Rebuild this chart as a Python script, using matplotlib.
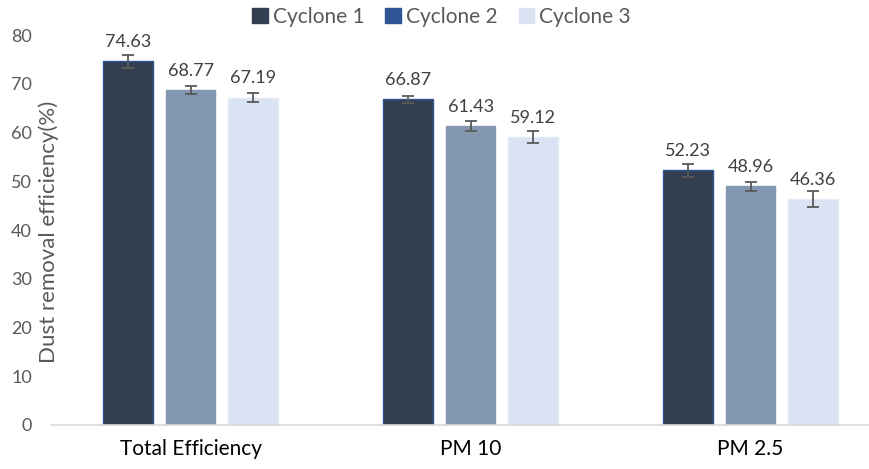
import numpy as np
import matplotlib.pyplot as plt
from matplotlib.patches import Patch

categories = ['Total Efficiency', 'PM 10', 'PM 2.5']
series_names = ['Cyclone 1', 'Cyclone 2', 'Cyclone 3']
cyclone1 = [74.63, 66.87, 52.23]
cyclone2 = [68.77, 61.43, 48.96]
cyclone3 = [67.19, 59.12, 46.36]
err1 = [1.3, 0.7, 1.3]
err2 = [0.9, 1.0, 1.0]
err3 = [0.9, 1.3, 1.65]

plt.rcParams['font.family'] = ['Lato', 'DejaVu Sans']

fill_colors = ['#333F50', '#8497B0', '#DAE3F3']
edge_colors = ['#2F5597', '#8497B0', '#E4EAF6']
legend_colors = ['#333F50', '#2F5597', '#DAE3F3']

fig = plt.figure(figsize=(8.69, 4.69), dpi=100)
ax = fig.add_axes([0.059, 0.094, 0.941, 0.831])

x = np.arange(len(categories))
width = 0.177
pitch = 0.223
values = [cyclone1, cyclone2, cyclone3]
errs = [err1, err2, err3]

for i in range(3):
    pos = x + (i - 1) * pitch
    ax.bar(pos, values[i], width, color=fill_colors[i], edgecolor=edge_colors[i],
           linewidth=1.0, zorder=2)
    ax.errorbar(pos, values[i], yerr=errs[i], fmt='none', ecolor='#595959',
                elinewidth=1.3, capsize=4, capthick=1.3, zorder=3)
    for p, v in zip(pos, values[i]):
        ax.annotate('%.2f' % v, (p, v), xytext=(0, 8), textcoords='offset points',
                    ha='center', va='bottom', fontsize=13, color='#404040')

ax.set_xlim(-0.498, 2.423)
ax.set_ylim(0, 80)
ax.set_yticks(np.arange(0, 81, 10))
ax.set_xticks(x)
ax.set_xticklabels(categories, fontsize=15, color='black')
ax.tick_params(axis='y', labelsize=13, labelcolor='#595959', length=0, pad=14)
ax.tick_params(axis='x', length=0, pad=10)
for s in ['top', 'right', 'left']:
    ax.spines[s].set_visible(False)
ax.spines['bottom'].set_color('#D9D9D9')
ax.spines['bottom'].set_linewidth(1.2)

ax.set_ylabel('Dust removal efficiency(%)', fontsize=16, color='#595959')
ax.yaxis.set_label_coords(0.01, 0.495)

handles = [Patch(facecolor=c, edgecolor=c) for c in legend_colors]
fig.legend(handles, series_names, loc='upper center', bbox_to_anchor=(0.508, 1.025),
           ncol=3, frameon=False, fontsize=15, handlelength=0.75, handleheight=0.75,
           handletextpad=0.25, columnspacing=1.0, labelcolor='#595959')

fig.savefig('out.png', dpi=100)
